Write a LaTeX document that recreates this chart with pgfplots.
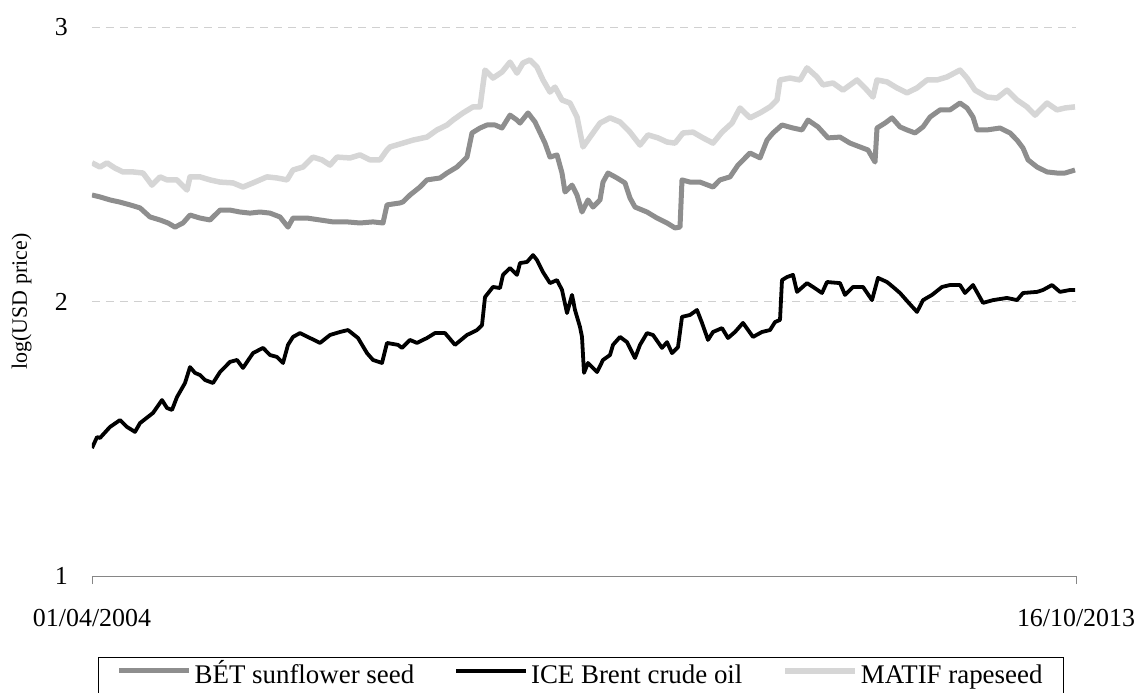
\documentclass[border=0pt]{standalone}
\usepackage{fontspec}
\setmainfont{Liberation Serif}
\usepackage{pgfplots}
\pgfplotsset{compat=1.18}
\definecolor{sunf}{HTML}{8E8E8E}
\definecolor{rape}{HTML}{D6D6D6}
\definecolor{gridc}{HTML}{D0D0D0}
\definecolor{axc}{HTML}{868686}
\begin{document}
\begin{tikzpicture}
\begin{axis}[
  scale only axis, width=984bp, height=549bp,
  xmin=0, xmax=984, ymin=1, ymax=3,
  axis x line*=bottom, axis y line*=left,
  x axis line style={draw=axc, line width=0.8bp, -},
  y axis line style={draw=none},
  xtick={0,984}, xticklabels={01/04/2004,16/10/2013},
  xtick align=outside, major tick length=8bp,
  xtick style={draw=axc, line width=0.8bp},
  ytick={1,2,3}, yticklabels={1,2,3}, ytick style={draw=none},
  ymajorgrids, grid style={draw=gridc, dash pattern=on 8bp off 6bp, line width=0.8bp},
  ticklabel style={font=\fontsize{26}{30}\selectfont},
  yticklabel style={inner sep=0pt, anchor=east, xshift=-24bp},
  xticklabel style={inner sep=0pt, anchor=north, yshift=-25bp},
  ylabel={log(USD price)},
  ylabel style={font=\fontsize{22}{26}\selectfont, at={(axis description cs:-0.0715,0.5)}, anchor=center},
  legend style={at={(0.497,-0.1475)}, anchor=north, draw=black, line width=0.8bp,
    font=\fontsize{27}{31}\selectfont, inner xsep=18bp, inner ysep=3bp,
    nodes={inner xsep=3bp, inner ysep=2bp, text height=21bp, text depth=12bp},
    /tikz/every even column/.append style={column sep=37bp}},
  legend columns=3, legend cell align=left,
  legend image code/.code={\draw[#1] (0bp,8bp) -- (70bp,8bp);},
  every axis plot/.append style={line join=round},
]
\coordinate (sw) at (rel axis cs:0,0);
\coordinate (ne) at (rel axis cs:1,1);
\addplot[draw=sunf, line width=5bp] coordinates {
(0,2.388)(8,2.381)(18,2.370)(28,2.362)(38,2.352)(48,2.341)(58,2.308)(68,2.297)(76,2.286)(83,2.271)(91,2.286)(98,2.315)(108,2.304)(118,2.297)(128,2.333)(138,2.333)(148,2.326)(158,2.322)(168,2.326)(178,2.322)(188,2.308)(196,2.271)(201,2.304)(215,2.304)(228,2.297)(241,2.290)(255,2.290)(268,2.286)(281,2.290)(291,2.286)(295,2.352)(308,2.359)(311,2.363)(318,2.388)(328,2.417)(335,2.443)(348,2.450)(355,2.468)(365,2.490)(375,2.526)(380,2.614)(388,2.632)(395,2.643)(403,2.643)(410,2.632)(418,2.679)(425,2.661)(428,2.650)(436,2.687)(443,2.654)(453,2.577)(458,2.526)(465,2.534)(470,2.468)(473,2.399)(480,2.424)(485,2.388)(490,2.326)(496,2.370)(501,2.344)(508,2.370)(511,2.435)(516,2.468)(525,2.450)(533,2.432)(538,2.377)(543,2.344)(555,2.326)(565,2.304)(575,2.286)(583,2.268)(588,2.271)(590,2.443)(598,2.435)(608,2.435)(621,2.417)(628,2.443)(638,2.454)(646,2.497)(658,2.541)(668,2.523)(675,2.588)(681,2.614)(690,2.643)(701,2.632)(710,2.625)(716,2.661)(726,2.636)(736,2.596)(748,2.599)(758,2.577)(768,2.563)(776,2.552)(783,2.508)(785,2.632)(793,2.650)(800,2.669)(808,2.636)(815,2.625)(823,2.614)(831,2.636)(838,2.672)(848,2.698)(858,2.698)(868,2.723)(875,2.705)(881,2.672)(885,2.625)(895,2.625)(908,2.632)(918,2.614)(925,2.588)(931,2.559)(936,2.516)(945,2.490)(955,2.472)(965,2.468)(973,2.468)(983,2.479)
};
\addlegendentry{BÉT sunflower seed}
\addplot[draw=black, line width=3.8bp] coordinates {
(0,1.466)(5,1.506)(8,1.503)(18,1.543)(28,1.568)(35,1.543)(43,1.525)(48,1.557)(61,1.594)(70,1.641)(75,1.612)(80,1.605)(85,1.652)(93,1.703)(98,1.761)(103,1.740)(108,1.732)(113,1.714)(121,1.703)(128,1.743)(138,1.780)(145,1.787)(151,1.758)(161,1.812)(171,1.831)(178,1.805)(185,1.798)(191,1.776)(196,1.842)(201,1.871)(208,1.885)(218,1.867)(228,1.849)(238,1.878)(248,1.889)(256,1.896)(266,1.867)(275,1.812)(281,1.787)(290,1.776)(295,1.849)(306,1.842)(310,1.831)(318,1.860)(325,1.849)(335,1.867)(343,1.885)(353,1.885)(363,1.842)(375,1.878)(385,1.896)(390,1.914)(393,2.016)(401,2.053)(408,2.049)(411,2.097)(418,2.122)(425,2.097)(428,2.140)(435,2.144)(441,2.169)(445,2.151)(451,2.107)(458,2.067)(465,2.078)(470,2.042)(475,1.958)(480,2.024)(483,1.969)(488,1.907)(490,1.871)(492,1.740)(496,1.776)(505,1.743)(511,1.787)(518,1.805)(521,1.842)(528,1.871)(535,1.852)(543,1.794)(548,1.842)(555,1.885)(561,1.878)(570,1.831)(575,1.852)(580,1.812)(586,1.834)(590,1.944)(598,1.951)(605,1.969)(610,1.922)(616,1.860)(621,1.889)(630,1.903)(636,1.867)(643,1.889)(651,1.922)(661,1.871)(670,1.889)(678,1.896)(683,1.925)(688,1.933)(690,2.078)(695,2.089)(701,2.097)(705,2.035)(715,2.067)(721,2.053)(730,2.031)(735,2.071)(748,2.067)(753,2.024)(761,2.053)(771,2.053)(780,2.005)(786,2.086)(795,2.071)(801,2.053)(808,2.031)(816,1.998)(825,1.962)(831,2.005)(840,2.024)(850,2.053)(858,2.060)(868,2.060)(873,2.031)(881,2.060)(891,1.995)(901,2.005)(915,2.013)(925,2.005)(931,2.031)(945,2.035)(951,2.042)(960,2.060)(968,2.035)(978,2.042)(983,2.042)
};
\addlegendentry{ICE Brent crude oil}
\addplot[draw=rape, line width=5.5bp] coordinates {
(0,2.505)(8,2.490)(15,2.505)(23,2.486)(31,2.472)(41,2.472)(51,2.468)(60,2.424)(68,2.454)(75,2.443)(85,2.443)(95,2.406)(98,2.454)(108,2.454)(118,2.443)(128,2.435)(141,2.432)(151,2.417)(161,2.432)(175,2.454)(185,2.450)(195,2.443)(201,2.479)(211,2.490)(221,2.526)(230,2.516)(238,2.497)(245,2.526)(258,2.523)(268,2.534)(278,2.516)(288,2.516)(295,2.552)(298,2.563)(311,2.577)(321,2.588)(335,2.599)(345,2.625)(355,2.643)(361,2.661)(371,2.687)(381,2.709)(388,2.709)(393,2.843)(401,2.814)(410,2.836)(418,2.872)(425,2.832)(431,2.869)(438,2.880)(445,2.854)(451,2.807)(458,2.763)(463,2.781)(470,2.734)(478,2.723)(485,2.672)(491,2.563)(498,2.599)(508,2.650)(518,2.669)(528,2.654)(538,2.617)(548,2.570)(556,2.607)(566,2.596)(575,2.581)(583,2.577)(591,2.614)(601,2.617)(611,2.596)(621,2.577)(630,2.617)(640,2.650)(648,2.705)(658,2.669)(668,2.687)(678,2.709)(685,2.734)(688,2.807)(698,2.814)(708,2.807)(715,2.851)(725,2.818)(731,2.789)(741,2.796)(751,2.770)(765,2.807)(775,2.770)(781,2.745)(785,2.807)(795,2.800)(805,2.778)(815,2.760)(825,2.778)(835,2.807)(845,2.807)(855,2.818)(868,2.843)(875,2.814)(883,2.770)(895,2.745)(905,2.741)(915,2.770)(925,2.734)(935,2.709)(943,2.679)(955,2.723)(965,2.698)(973,2.705)(983,2.709)
};
\addlegendentry{MATIF rapeseed}
\end{axis}
\pgfresetboundingbox
\path (sw) +(-92bp,-117bp) (ne) +(59bp,27bp);
\end{tikzpicture}
\end{document}
